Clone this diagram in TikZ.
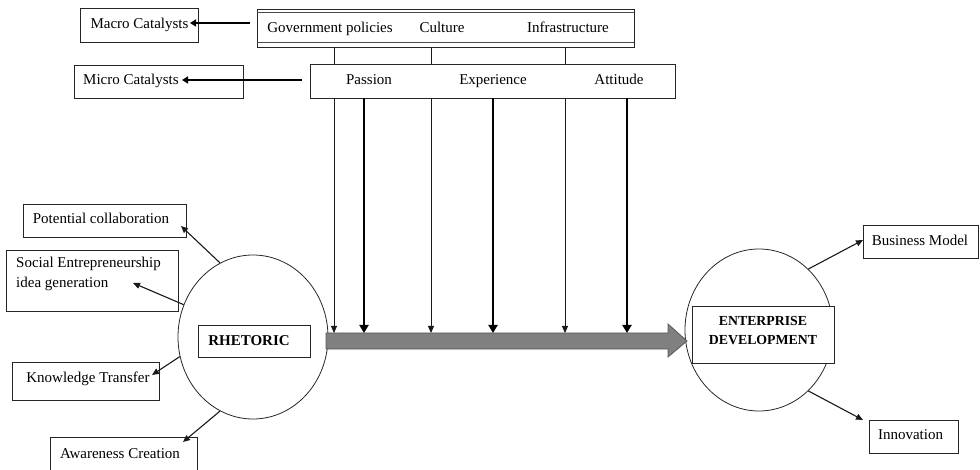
\documentclass[tikz,border=0pt]{standalone}
\usepackage{fontspec}
\setmainfont{Liberation Serif}
\usetikzlibrary{arrows.meta,shapes.geometric}
\begin{document}
\begin{tikzpicture}[x=1pt,y=-1pt,
  boxwh/.style n args={2}{draw=black!85, line width=0.8pt, fill=white, inner sep=0pt,
     minimum width=#1, minimum height=#2, font=\fontsize{15}{18}\selectfont},
  txt/.style={inner sep=0pt, font=\fontsize{15}{18}\selectfont, text height=12pt, text depth=2pt},
  circ/.style={ellipse, draw=black!85, line width=0.8pt, inner sep=0pt},
  thinline/.style={draw=black!90, line width=1pt},
  thinarr/.style={draw=black!90, line width=1pt, -{Triangle[length=7pt,width=6pt]}},
  thickarr/.style={draw=black, line width=2.7pt, -{Triangle[length=8pt,width=9pt]}},
  catarr/.style={draw=black, line width=2.2pt, -{Triangle[length=6pt,width=7pt]}},
  sidearr/.style={draw=black!90, line width=1.1pt, -{Triangle[length=7pt,width=6pt]}}
]
\useasboundingbox (0,0) rectangle (980,470);
\clip (0,0) rectangle (980,470);

% Catalyst labels
\node[boxwh={118}{34}] (macro) at (139,25) {};
\node[txt] (macrot) at (139.5,23.5) {Macro Catalysts};
\node[boxwh={169}{33}] (micro) at (158.5,81.5) {};
\node[txt, anchor=west] (microt) at (83,80) {Micro Catalysts};

% Macro box
\node[boxwh={377}{38}] (macrobox) at (445.5,28) {};
\draw[black!70, line width=0.6pt] ([yshift=-4]macrobox.north west) -- ([yshift=-4]macrobox.north east);
\draw[black!70, line width=0.6pt] ([yshift=5]macrobox.south west) -- ([yshift=5]macrobox.south east);
\node[txt] (gov) at (330,28) {Government policies};
\node[txt] (cul) at (442,28) {Culture};
\node[txt] (inf) at (568,28) {Infrastructure};

% Micro box
\node[boxwh={365}{34}] (microbox) at (492.5,81) {};
\node[txt] (pas) at (369,80) {Passion};
\node[txt] (exp) at (493,80) {Experience};
\node[txt] (att) at (619,80) {Attitude};

% catalyst arrows
\coordinate (mact) at (190,23);
\coordinate (mict) at (182,80);
\draw[catarr, shorten <=7pt] (macrobox.west |- mact) -- (mact);
\draw[catarr, shorten <=8pt] (microbox.west |- mict) -- (mict);

% circles
\node[circ, minimum width=150, minimum height=164] (rh) at (253,337) {};
\node[boxwh={112}{32}] (rhb) at (254,341) {};
\node[txt, font=\fontsize{15}{18}\selectfont\bfseries] (rht) at (249,340) {RHETORIC};

\node[circ, minimum width=148, minimum height=162] (ed) at (759,330) {};
\node[boxwh={142}{57}] (edb) at (763,334.5) {};
\node[inner sep=0pt, align=center, font=\fontsize{13.8}{19}\selectfont\bfseries] (edt) at (763,331) {ENTERPRISE\\DEVELOPMENT};

% big arrow
\draw[fill=black!50, draw=black!65, line width=0.8pt]
  (326,333) -- (668,333) -- (668,324) -- (687,341) -- (668,357) -- (668,349) -- (326,349) -- cycle;

% vertical arrows
\coordinate (v1) at (334,333);
\coordinate (v2) at (364,333);
\coordinate (v3) at (431,333);
\coordinate (v4) at (493,333);
\coordinate (v5) at (565,333);
\coordinate (v6) at (627,333);
\foreach \v in {v1,v3,v5}{
  \draw[thinline] (macrobox.south -| \v) -- (microbox.north -| \v);
  \draw[thinarr] (microbox.south -| \v) -- (\v);
}
\foreach \v in {v2,v4,v6}{
  \draw[thickarr] (microbox.south -| \v) -- (\v);
}

% left boxes
\node[boxwh={163}{33}] (pot) at (104.5,220.5) {};
\node[txt] (pott) at (101,219) {Potential collaboration};
\node[boxwh={172}{61}] (soc) at (92,280.5) {};
\node[inner sep=0pt, anchor=north west, align=left, font=\fontsize{15}{20}\selectfont] (soct) at (16,257) {Social Entrepreneurship\\idea generation};
\node[boxwh={147}{38}] (kno) at (85.5,381) {};
\node[txt] (knot) at (88,377) {Knowledge Transfer};
\node[boxwh={147}{43}] (awa) at (123.5,458.5) {};
\node[txt] (awat) at (120,453) {Awareness Creation};

% right boxes
\node[boxwh={115}{33}] (bus) at (920.5,241.5) {};
\node[txt] (bust) at (920,241) {Business Model};
\node[boxwh={89}{33}] (inn) at (913.5,436.5) {};
\node[txt] (innt) at (910.5,434) {Innovation};

% side arrows
\coordinate (tp) at (181,226);
\coordinate (ts) at (133,283);
\coordinate (tk) at (152,375);
\coordinate (ta) at (183,442);
\coordinate (tb) at (863,240);
\coordinate (ti) at (863,420);
\draw[sidearr] (rh.114) -- (tp);
\draw[sidearr] (rh.155) -- (ts);
\draw[sidearr] (rh.195) -- (tk);
\draw[sidearr] (rh.246) -- (ta);
\draw[sidearr] (ed.51) -- (tb);
\draw[sidearr] (ed.-51) -- (ti);
\end{tikzpicture}
\end{document}
